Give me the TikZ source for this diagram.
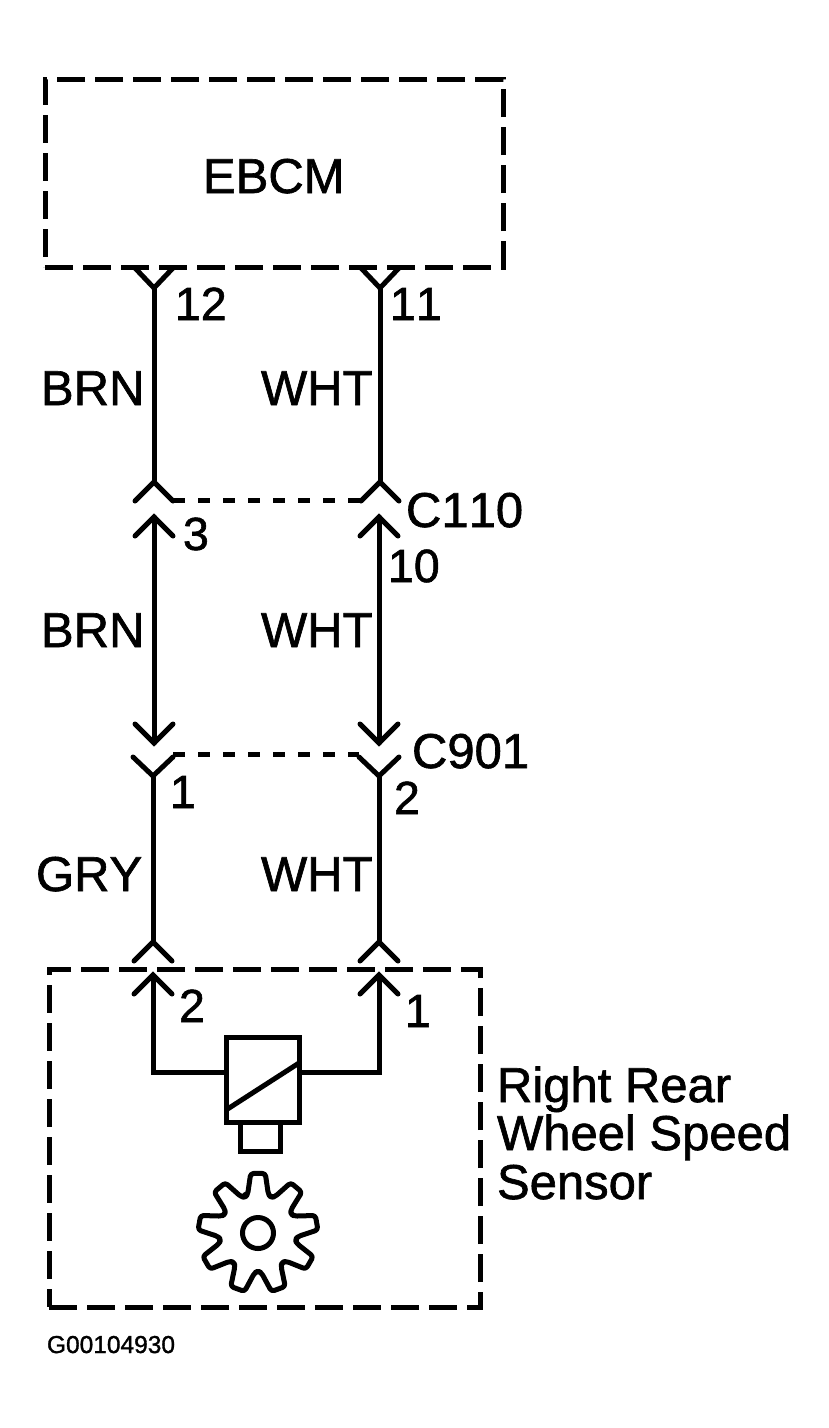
\documentclass[tikz,border=0pt]{standalone}
\usepackage{fontspec}
\setmainfont{Liberation Sans}[RawFeature={embolden=1.3;-kern}]
\begin{document}
\begin{tikzpicture}[x=1pt,y=-1pt,
  every node/.style={outer sep=0pt},
  wire/.style={line width=5pt,line cap=round,line join=miter,black},
  tip/.style={line width=5pt,line cap=round,line join=miter,black},
  shell/.style={line width=5pt,dash pattern=on 28pt off 10pt,black},
  link/.style={line width=5pt,dash pattern=on 12pt off 13pt,black},
  solid box/.style={line width=5pt,black,draw,fill=white,inner sep=0pt},
  lab/.style={font=\fontsize{49}{52}\selectfont,anchor=base west,inner sep=0pt,black},
  pin/.style={font=\fontsize{46.5}{49}\selectfont,anchor=base west,inner sep=0pt,black}]
\useasboundingbox (0,0) rectangle (828,1428);
% Boxes
\node[shell,draw,minimum width=458pt,minimum height=188pt,inner sep=0pt,anchor=north west] (ebcm) at (45,79) {};
\node[lab] (ebcmtext) at (203,193) {EBCM};
\node[shell,draw,minimum width=431pt,minimum height=338pt,inner sep=0pt,anchor=north west] (sensorbox) at (49,969) {};
% Wire junction points
\coordinate (a12) at (154,288); \coordinate (a11) at (380,288);
\coordinate (b3) at (154,482);  \coordinate (b10) at (380,482);
\coordinate (c3) at (154,517);  \coordinate (c10) at (379,517);
\coordinate (d3) at (154,743);  \coordinate (d10) at (379,743);
\coordinate (e1) at (153,776);  \coordinate (e2) at (379,776);
\coordinate (f1) at (153,942);  \coordinate (f2) at (379,942);
\coordinate (g1) at (153,975);  \coordinate (g2) at (379,975);
% Wires
\draw[wire] (a12) -- (b3);
\draw[wire] (a11) -- (b10);
\draw[wire] (c3) -- (d3);
\draw[wire] (c10) -- (d10);
\draw[wire] (e1) -- (f1);
\draw[wire] (e2) -- (f2);
% Terminals at EBCM
\foreach \p in {a12,a11}{\draw[tip] ([shift={(-19,-20)}]\p) -- (\p) -- ([shift={(19,-20)}]\p);}
% Chevrons
\foreach \p in {b3,b10,f1,f2,c3,c10,g1,g2}{\draw[tip] ([shift={(-19,19)}]\p) -- (\p) -- ([shift={(19,19)}]\p);}
\foreach \p in {d3,d10}{\draw[tip] ([shift={(-19,-19)}]\p) -- (\p) -- ([shift={(19,-19)}]\p);}
\foreach \p in {e1,e2}{\draw[tip] ([shift={(-20,-19)}]\p) -- (\p) -- ([shift={(20,-19)}]\p);}
% Connector links
\draw[link] ([shift={(19,18)}]b3) -- ([shift={(-19,18)}]b10);
\draw[link] ([shift={(20,-22)}]e1) -- ([shift={(-20,-22)}]e2);
% Sensor
\node[solid box,minimum width=73pt,minimum height=85pt,anchor=north west] (coil) at (226,1037) {};
\node[solid box,minimum width=40pt,minimum height=29pt,anchor=north west] (tipbox) at (240,1122) {};
\draw[wire,line cap=butt] (g1) |- (coil.west |- 0,1072);
\draw[wire,line cap=butt] (g2) |- (coil.east |- 0,1072);
\draw[line width=5pt,black] (226,1110) -- (299,1063);
% Gear
\begin{scope}[shift={(258,1233)}]
\draw[line width=5pt,black,rounded corners=3pt,line join=round]
  (-110:38) \foreach \a in {-90,-50,-10,30,70,110,150,190,230}{
    -- ({\a-15}:40) -- ({\a-7}:60) -- ({\a+7}:60) -- ({\a+15}:40) -- ({\a+20}:38)} -- cycle;
\node[circle,draw,line width=5pt,minimum size=31pt,inner sep=0pt] (hub) at (0,0) {};
\end{scope}
% Labels
\node[pin] (p12) at (175,320) {12};
\node[pin] (p11) at (390,320) {11};
\node[lab] (l1) at (41,405) {BRN};
\node[lab] (l2) at (261,405) {WHT};
\node[pin] (p3) at (183,550) {3};
\node[lab] (c110) at (406,527) {C110};
\node[pin] (p10) at (388,582) {10};
\node[lab] (l3) at (41,647) {BRN};
\node[lab] (l4) at (261,647) {WHT};
\node[lab] (c901) at (412,768) {C901};
\node[pin] (p1) at (170,808) {1};
\node[pin] (p2) at (394,814) {2};
\node[lab] (l5) at (36,891) {GRY};
\node[lab] (l6) at (261,891) {WHT};
\node[pin] (p2b) at (179,1022) {2};
\node[pin] (p1b) at (405,1027) {1};
\node[lab] (s1) at (497,1102) {Right Rear};
\node[lab] (s2) at (497,1150) {Wheel Speed};
\node[lab] (s3) at (497,1199) {Sensor};
\node[font=\fontsize{24.5}{26}\selectfont,anchor=base west,inner sep=0pt] (code) at (47,1353) {G00104930};
\end{tikzpicture}
\end{document}
